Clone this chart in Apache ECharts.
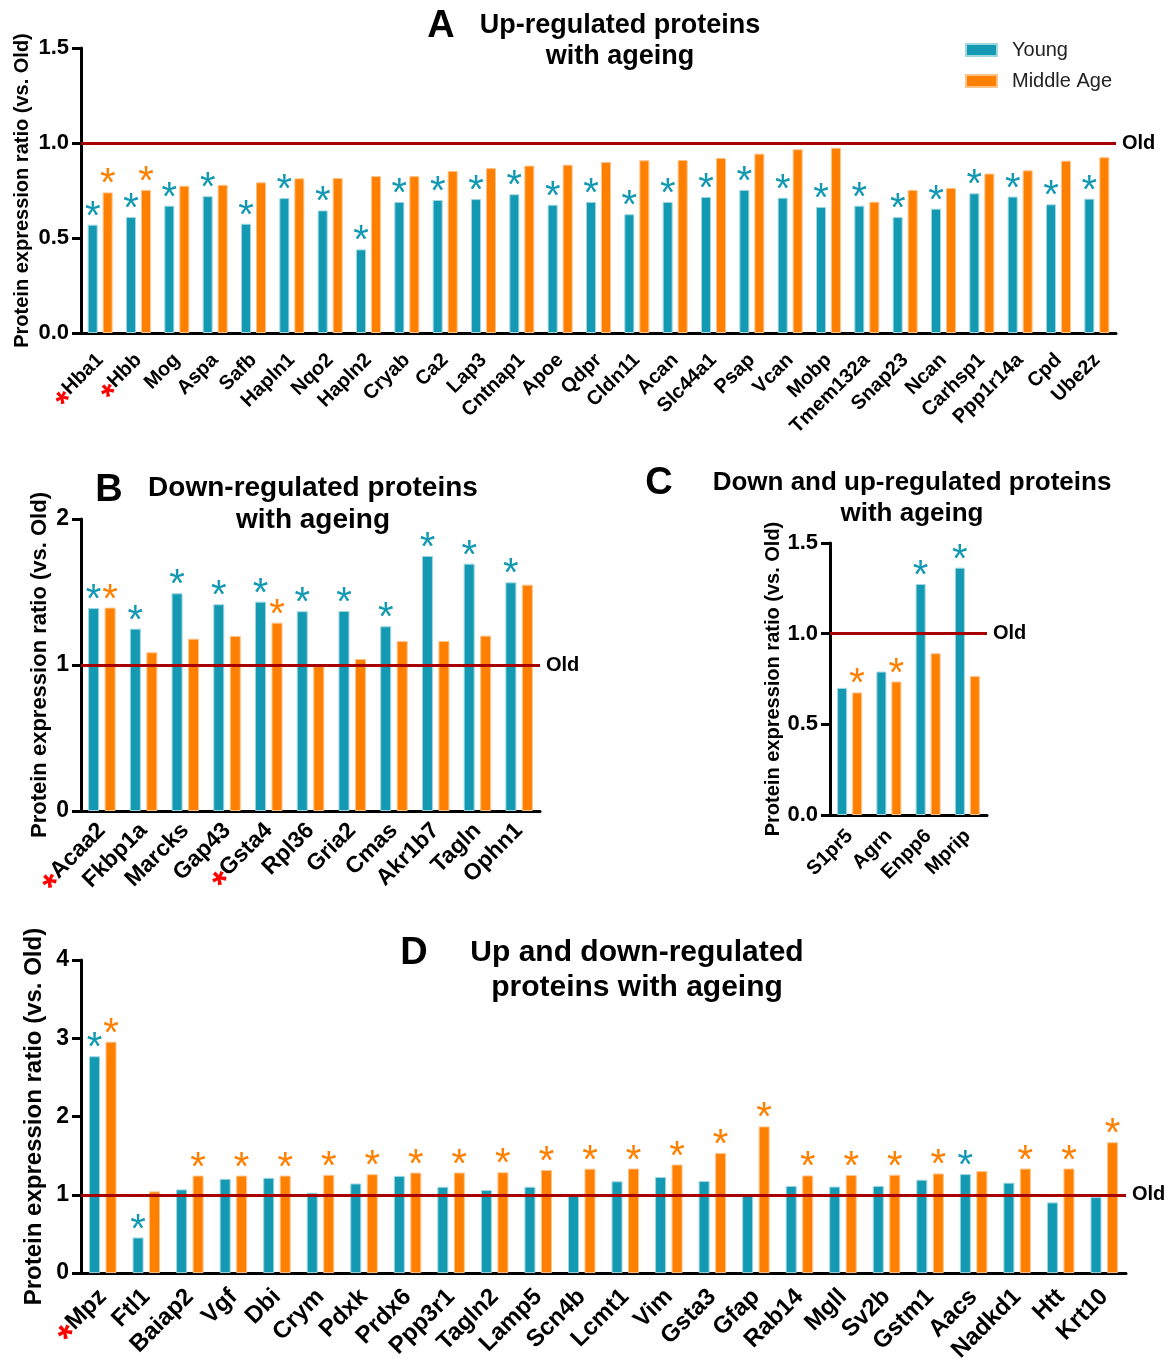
<!DOCTYPE html>
<html>
<head>
<meta charset="utf-8">
<script src="https://cdn.jsdelivr.net/npm/echarts@6/dist/echarts.min.js"></script>
<style>
    body { margin: 0; background: #fff; }
    #main { width: 1173px; height: 1365px; }
</style>
</head>
<body>
<div id="main"></div>
<script>
// panel A - up-regulated
var catA = ['Hba1', 'Hbb', 'Mog', 'Aspa', 'Safb', 'Hapln1', 'Nqo2', 'Hapln2', 'Cryab', 'Ca2', 'Lap3', 'Cntnap1', 'Apoe', 'Qdpr',
    'Cldn11', 'Acan', 'Slc44a1', 'Psap', 'Vcan', 'Mobp', 'Tmem132a', 'Snap23', 'Ncan', 'Carhsp1', 'Ppp1r14a', 'Cpd', 'Ube2z'];
var youngA = [0.57, 0.61, 0.67, 0.72, 0.575, 0.71, 0.645, 0.44, 0.69, 0.70, 0.705, 0.73, 0.675, 0.69,
    0.625, 0.69, 0.716, 0.753, 0.712, 0.663, 0.67, 0.61, 0.654, 0.735, 0.718, 0.677, 0.707];
var middleA = [0.74, 0.753, 0.775, 0.78, 0.793, 0.814, 0.816, 0.826, 0.826, 0.853, 0.868, 0.881, 0.886, 0.90,
    0.909, 0.911, 0.921, 0.944, 0.967, 0.975, 0.691, 0.753, 0.763, 0.839, 0.856, 0.907, 0.925];
var sigYoungA = [1, 1, 1, 1, 1, 1, 1, 1, 1, 1, 1, 1, 1, 1, 1, 1, 1, 1, 1, 1, 1, 1, 1, 1, 1, 1, 1];
var sigMiddleA = [1, 1, 0, 0, 0, 0, 0, 0, 0, 0, 0, 0, 0, 0, 0, 0, 0, 0, 0, 0, 0, 0, 0, 0, 0, 0, 0];
var redA = ['Hba1', 'Hbb'];

// panel B - down-regulated
var catB = ['Acaa2', 'Fkbp1a', 'Marcks', 'Gap43', 'Gsta4', 'Rpl36', 'Gria2', 'Cmas', 'Akr1b7', 'Tagln', 'Ophn1'];
var youngB = [1.39, 1.249, 1.491, 1.416, 1.434, 1.368, 1.37, 1.265, 1.747, 1.694, 1.566];
var middleB = [1.393, 1.087, 1.18, 1.199, 1.29, 0.993, 1.041, 1.164, 1.164, 1.201, 1.55];
var sigYoungB = [1, 1, 1, 1, 1, 1, 1, 1, 1, 1, 1];
var sigMiddleB = [1, 0, 0, 0, 1, 0, 0, 0, 0, 0, 0];
var redB = ['Acaa2', 'Gsta4'];

// panel C - down and up
var catC = ['S1pr5', 'Agrn', 'Enpp6', 'Mprip'];
var youngC = [0.701, 0.791, 1.274, 1.364];
var middleC = [0.676, 0.736, 0.892, 0.766];
var sigYoungC = [0, 0, 1, 1];
var sigMiddleC = [1, 1, 0, 0];
var redC = [];

// panel D - up and down
var catD = ['Mpz', 'Ftl1', 'Baiap2', 'Vgf', 'Dbi', 'Crym', 'Pdxk', 'Prdx6', 'Ppp3r1', 'Tagln2', 'Lamp5', 'Scn4b',
    'Lcmt1', 'Vim', 'Gsta3', 'Gfap', 'Rab14', 'Mgll', 'Sv2b', 'Gstm1', 'Aacs', 'Nadkd1', 'Htt', 'Krt10'];
var youngD = [2.77, 0.455, 1.069, 1.204, 1.217, 1.027, 1.145, 1.242, 1.103, 1.061, 1.103, 0.989,
    1.172, 1.227, 1.176, 1.008, 1.113, 1.105, 1.113, 1.193, 1.265, 1.155, 0.903, 0.971];
var middleD = [2.956, 1.044, 1.246, 1.246, 1.246, 1.255, 1.263, 1.284, 1.284, 1.288, 1.318, 1.334,
    1.336, 1.387, 1.534, 1.874, 1.248, 1.252, 1.256, 1.273, 1.303, 1.336, 1.336, 1.672];
var sigYoungD = [1, 1, 0, 0, 0, 0, 0, 0, 0, 0, 0, 0, 0, 0, 0, 0, 0, 0, 0, 0, 1, 0, 0, 0];
var sigMiddleD = [1, 0, 1, 1, 1, 1, 1, 1, 1, 1, 1, 1, 1, 1, 1, 1, 1, 1, 1, 1, 0, 1, 1, 1];
var redD = ['Mpz'];

var TEAL = '#1399b2';
var ORANGE = '#ff8000';
var FONT = '"Liberation Sans", Arial, sans-serif';

function xAxisFor(grid, cats, reds, size, margin) {
    return {
        type: 'category',
        gridIndex: grid,
        data: cats,
        axisLine: {lineStyle: {color: '#000', width: 3}},
        axisTick: {alignWithLabel: true, length: 9, lineStyle: {width: 3, color: '#000'}},
        axisLabel: {
            rotate: 45,
            interval: 0,
            margin: margin,
            fontFamily: FONT,
            fontWeight: 'bold',
            fontSize: size,
            color: '#000',
            formatter: function (v) {
                return reds.indexOf(v) >= 0 ? '{r|*}' + v : v;
            },
            rich: {
                r: {color: '#ff0000', fontSize: size + 14, fontWeight: 'bold', fontFamily: FONT, padding: [18, 0, 0, 0]}
            }
        }
    };
}

function yAxisFor(grid, max, step, decimals, size, nameSize, gap) {
    return {
        type: 'value',
        gridIndex: grid,
        min: 0,
        max: max,
        interval: step,
        name: 'Protein expression ratio (vs. Old)',
        nameLocation: 'middle',
        nameGap: gap,
        nameMoveOverlap: false,
        nameTextStyle: {fontFamily: FONT, fontWeight: 'bold', fontSize: nameSize, color: '#000'},
        splitLine: {show: false},
        axisLine: {show: true, lineStyle: {color: '#000', width: 3}},
        axisTick: {show: true, length: 9, lineStyle: {width: 3, color: '#000'}},
        axisLabel: {
            fontFamily: FONT, fontWeight: 'bold', fontSize: size, color: '#000', margin: 12,
            formatter: function (v) {
                return v.toFixed(decimals);
            }
        }
    };
}

function barSeries(grid, name, vals, sig, color, border, barW, oldLine) {
    var s = {
        name: name,
        type: 'bar',
        xAxisIndex: grid,
        yAxisIndex: grid,
        data: vals,
        barWidth: barW,
        barGap: '50%',
        itemStyle: {color: color, borderColor: border, borderWidth: 1},
        label: {
            show: true,
            position: 'top',
            distance: -13,
            fontFamily: FONT,
            fontSize: 40,
            color: color,
            formatter: function (p) {
                return sig[p.dataIndex] ? '*' : '';
            }
        }
    };
    if (oldLine) {
        s.markLine = {
            silent: true,
            symbol: 'none',
            data: [{yAxis: 1}],
            lineStyle: {color: '#a80000', width: 3, type: 'solid'},
            label: {position: 'end', formatter: 'Old', fontFamily: FONT, fontWeight: 'bold', fontSize: 20, color: '#000', distance: 6}
        };
    }
    return s;
}

function titleText(text, x, y, size, lh) {
    return {
        text: text,
        left: x,
        top: y,
        textAlign: 'center',
        textStyle: {fontFamily: FONT, fontWeight: 'bold', fontSize: size, lineHeight: lh, color: '#000'}
    };
}

function drawChart() {
    var myChart = echarts.init(document.getElementById('main'));

    var option = {
        animation: false,
        backgroundColor: '#fff',
        title: [
            titleText('A', 436, 2, 38, 40),
            titleText('Up-regulated proteins\nwith ageing', 615, 5, 27, 31),
            titleText('B', 104, 466, 38, 40),
            titleText('Down-regulated proteins\nwith ageing', 308, 467, 28, 32),
            titleText('C', 654, 459, 38, 40),
            titleText('Down and up-regulated proteins\nwith ageing', 907, 462, 26, 31),
            titleText('D', 409, 929, 38, 40),
            titleText('Up and down-regulated\nproteins with ageing', 632, 930, 30, 35)
        ],
        legend: {
            data: ['Young', 'Middle Age'],
            orient: 'vertical',
            left: 960,
            top: 35,
            itemWidth: 31,
            itemHeight: 12,
            itemGap: 11,
            icon: 'rect',
            textStyle: {fontFamily: FONT, fontSize: 20, color: '#222', padding: [0, 0, 0, 10]}
        },
        grid: [
            {left: 81, top: 48, width: 1035, height: 285},
            {left: 81, top: 519, width: 459, height: 292},
            {left: 830, top: 543, width: 157, height: 272},
            {left: 81, top: 960, width: 1045, height: 316}
        ],
        xAxis: [
            xAxisFor(0, catA, redA, 20, 24),
            xAxisFor(1, catB, redB, 23, 16),
            xAxisFor(2, catC, redC, 20, 18),
            xAxisFor(3, catD, redD, 24, 20)
        ],
        yAxis: [
            yAxisFor(0, 1.5, 0.5, 1, 22, 20, 49),
            yAxisFor(1, 2, 1, 0, 23, 22, 30),
            yAxisFor(2, 1.5, 0.5, 1, 22, 20, 47),
            yAxisFor(3, 4, 1, 0, 23, 24, 35)
        ],
        series: [
            barSeries(0, 'Young', youngA, sigYoungA, TEAL, '#9fd6e0', 10, true),
            barSeries(0, 'Middle Age', middleA, sigMiddleA, ORANGE, '#ffc38a', 10, false),
            barSeries(1, 'Young', youngB, sigYoungB, TEAL, '#9fd6e0', 11, true),
            barSeries(1, 'Middle Age', middleB, sigMiddleB, ORANGE, '#ffc38a', 11, false),
            barSeries(2, 'Young', youngC, sigYoungC, TEAL, '#9fd6e0', 10, true),
            barSeries(2, 'Middle Age', middleC, sigMiddleC, ORANGE, '#ffc38a', 10, false),
            barSeries(3, 'Young', youngD, sigYoungD, TEAL, '#9fd6e0', 11, true),
            barSeries(3, 'Middle Age', middleD, sigMiddleD, ORANGE, '#ffc38a', 11, false)
        ]
    };

    myChart.setOption(option);
}

drawChart();
</script>
</body>
</html>
